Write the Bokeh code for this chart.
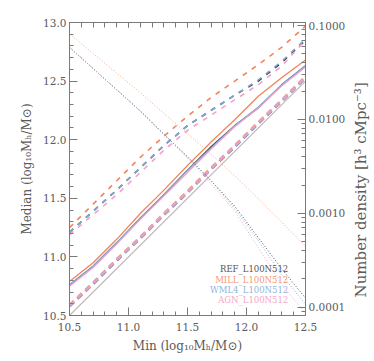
import math
from bokeh.plotting import figure
from bokeh.layouts import row
from bokeh.models import (Range1d, LinearAxis, LogAxis, LogScale, FixedTicker,
                          PrintfTickFormatter, Label)
from bokeh.core.properties import value
from bokeh.embed import file_html
from bokeh.resources import INLINE

# ---------------- data ----------------
halo_mass = [10.5, 10.7, 10.9, 11.1, 11.3, 11.5, 11.7, 11.9, 12.1, 12.3, 12.5]
one_to_one = [10.5, 12.5]

median_ref = [10.76, 10.92, 11.12, 11.33, 11.53, 11.74, 11.94, 12.12, 12.27, 12.47, 12.63]
median_mill = [10.79, 10.95, 11.15, 11.37, 11.57, 11.78, 11.98, 12.17, 12.37, 12.53, 12.68]
median_wml4 = [10.76, 10.92, 11.12, 11.33, 11.53, 11.74, 11.93, 12.12, 12.28, 12.47, 12.63]
median_agn = [10.75, 10.91, 11.11, 11.32, 11.52, 11.72, 11.92, 12.11, 12.27, 12.46, 12.62]

upper_ref = [11.21, 11.39, 11.57, 11.76, 11.95, 12.12, 12.25, 12.38, 12.50, 12.66, 12.85]
upper_mill = [11.25, 11.45, 11.65, 11.85, 12.03, 12.20, 12.36, 12.50, 12.64, 12.79, 12.97]
upper_wml4 = [11.21, 11.39, 11.57, 11.76, 11.95, 12.12, 12.25, 12.38, 12.51, 12.67, 12.86]
upper_agn = [11.19, 11.36, 11.53, 11.72, 11.91, 12.08, 12.21, 12.34, 12.47, 12.63, 12.85]

lower_ref = [10.58, 10.77, 10.97, 11.16, 11.36, 11.55, 11.75, 11.94, 12.14, 12.33, 12.53]
lower_mill = [10.59, 10.78, 10.98, 11.17, 11.37, 11.56, 11.76, 11.95, 12.15, 12.34, 12.54]
lower_wml4 = [10.58, 10.77, 10.97, 11.16, 11.36, 11.55, 11.75, 11.94, 12.14, 12.33, 12.53]
lower_agn = [10.585, 10.775, 10.975, 11.165, 11.365, 11.555, 11.755, 11.945, 12.145, 12.335, 12.535]

density_ref = [0.0586, 0.0348, 0.0207, 0.0123, 0.00695, 0.00400, 0.00222, 0.00119, 0.000551, 0.000255, 0.000125]
density_mill = [0.0815, 0.0504, 0.0311, 0.0193, 0.0116, 0.00703, 0.00425, 0.00251, 0.00143, 0.000800, 0.000449]
density_wml4 = [0.0586, 0.0348, 0.0207, 0.0123, 0.00695, 0.00400, 0.00222, 0.00112, 0.000513, 0.000220, 0.000108]
density_agn = [0.0586, 0.0348, 0.0207, 0.0123, 0.00690, 0.00389, 0.00206, 0.00106, 0.000430, 0.000172, 0.0000865]

sim_names = ["REF_L100N512", "MILL_L100N512", "WML4_L100N512", "AGN_L100N512"]
sim_colors = ["#383838", "#f5835a", "#7eaad6", "#f2a2c6"]
label_colors = ["#555555", "#f59a78", "#8fb6dc", "#f2a8c8"]

mass_major_ticks = [10.5, 11.0, 11.5, 12.0, 12.5]
mass_minor_ticks = [round(10.5 + 0.1 * i, 1) for i in range(1, 20)]
median_major_ticks = [10.5, 11.0, 11.5, 12.0, 12.5, 13.0]
median_minor_ticks = [round(10.5 + 0.1 * i, 1) for i in range(1, 25)]
density_ticks = [1e-4, 1e-3, 1e-2, 1e-1]
density_minor_ticks = [k * 10.0 ** n for n in range(-5, 0) for k in range(2, 10)]

# ---------------- figure ----------------
FONT = "DejaVu Serif"
TXT = "#5a5a5a"
AX = "#7a7a7a"
TOTAL_H = 353

p = figure(frame_width=236, frame_height=293,
           min_border_left=69, min_border_right=42, min_border_top=22, min_border_bottom=38,
           x_range=Range1d(10.5, 12.5), y_range=Range1d(10.5, 13.0),
           x_axis_location=None, y_axis_location=None,
           output_backend="svg", toolbar_location=None)
p.grid.visible = False
p.outline_line_color = AX
p.background_fill_color = "white"
p.border_fill_color = "white"

p.extra_y_ranges = {"dens": Range1d(10 ** -4.088, 10 ** -0.968)}
p.extra_y_scales = {"dens": LogScale()}


def style(ax):
    ax.axis_line_color = AX
    ax.major_tick_line_color = AX
    ax.minor_tick_line_color = AX
    ax.major_tick_in = 8
    ax.major_tick_out = 0
    ax.minor_tick_in = 4
    ax.minor_tick_out = 0
    ax.major_label_text_font = FONT
    ax.major_label_text_color = TXT
    ax.major_label_text_font_size = "10.5px"
    ax.axis_label_text_font = FONT
    ax.axis_label_text_color = TXT
    ax.axis_label_text_font_size = "12px"
    ax.axis_label_text_font_style = "normal"


bottom = LinearAxis(ticker=FixedTicker(ticks=mass_major_ticks, minor_ticks=mass_minor_ticks),
                    formatter=PrintfTickFormatter(format="%.1f"),
                    axis_label="Min (log₁₀Mₕ/M⊙)")
style(bottom)
bottom.major_label_standoff = 7
bottom.axis_label_standoff = 5
p.add_layout(bottom, "below")

top = LinearAxis(ticker=FixedTicker(ticks=[], minor_ticks=mass_minor_ticks + mass_major_ticks))
style(top)
top.minor_tick_in = 5
top.major_label_standoff = 0
p.add_layout(top, "above")

left = LinearAxis(ticker=FixedTicker(ticks=median_major_ticks, minor_ticks=median_minor_ticks),
                  formatter=PrintfTickFormatter(format="%.1f"),
                  axis_label="Median (log₁₀Mₕ/M⊙)")
style(left)
left.major_label_standoff = 3
left.axis_label_standoff = 6
p.add_layout(left, "left")

right = LogAxis(y_range_name="dens",
                ticker=FixedTicker(ticks=density_ticks, minor_ticks=density_minor_ticks),
                formatter=PrintfTickFormatter(format="%.4f"))
style(right)
right.major_label_standoff = 3
p.add_layout(right, "right")

# 1:1 line
p.line(one_to_one, one_to_one, line_color="#c4b8b8", line_width=1.2)

medians = [median_ref, median_mill, median_wml4, median_agn]
uppers = [upper_ref, upper_mill, upper_wml4, upper_agn]
lowers = [lower_ref, lower_mill, lower_wml4, lower_agn]
densities = [density_ref, density_mill, density_wml4, density_agn]

for vals, col in zip(lowers, sim_colors):
    p.line(halo_mass, vals, line_color=col, line_width=2.6, line_dash="6 5", line_alpha=0.85)

for vals, col in zip(uppers, sim_colors):
    p.line(halo_mass, vals, line_color=col, line_width=1.6, line_dash="5 6")

for vals, col in zip(medians, sim_colors):
    p.line(halo_mass, vals, line_color=col, line_width=1.3)

for vals, col, a in zip(densities, sim_colors, [0.9, 0.7, 0.9, 0.9]):
    p.line(halo_mass, vals, line_color=col, line_width=1.0, line_dash="1 2",
           y_range_name="dens", line_alpha=a)

# legend as coloured text
legend_y = [10.898, 10.804, 10.718, 10.632]
for name, col, yy in zip(sim_names, label_colors, legend_y):
    p.add_layout(Label(x=12.354, y=yy, text=name, text_align="right", text_baseline="middle",
                       text_color=col, text_font=FONT, text_font_size="8.5px"))

# narrow strip to the right carrying the right-hand axis title
p2 = figure(width=24, height=TOTAL_H, min_border=0,
            x_range=Range1d(0, 1), y_range=Range1d(0, 1),
            x_axis_location=None, y_axis_location=None,
            output_backend="svg", toolbar_location=None)
p2.grid.visible = False
p2.outline_line_color = None
p2.text(x=[0.5], y=[1 - 203 / TOTAL_H], text=["Number density [h³ cMpc⁻³]"],
        angle=math.pi / 2, text_align="center", text_baseline="middle",
        text_color=TXT, text_font=value(FONT), text_font_size="15px")

layout = row(p, p2)
open("out.html", "w").write(file_html(layout, INLINE))
